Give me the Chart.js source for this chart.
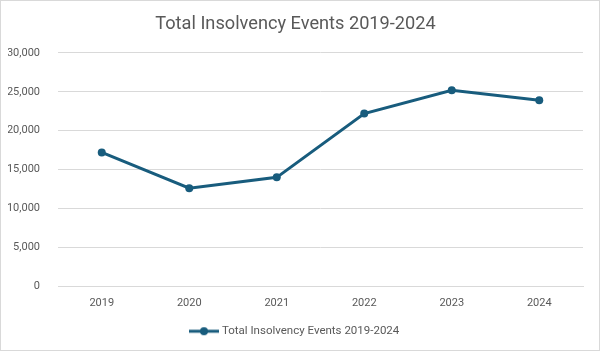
<!DOCTYPE html>
<html>
<head>
<meta charset="utf-8">
<script src="https://cdn.jsdelivr.net/npm/chart.js@4"></script>
<style>
  html, body { margin: 0; padding: 0; background: #fff; }
  #wrap { position: relative; width: 600px; height: 351px; }
  #frame { position: absolute; left: 0; top: 0; width: 600px; height: 351px; box-sizing: border-box; border: 1px solid #d9d9d9; pointer-events: none; }
  canvas { display: block; }
</style>
</head>
<body>
<div id="wrap">
  <canvas id="c" width="600" height="351"></canvas>
  <div id="frame"></div>
</div>
<script>
const categories = ['2019', '2020', '2021', '2022', '2023', '2024'];
const insolvencyEvents = [17200, 12600, 14000, 22200, 25200, 23900];
const seriesName = 'Total Insolvency Events 2019-2024';
const chartTitle = 'Total Insolvency Events 2019-2024';
const yTicks = [0, 5000, 10000, 15000, 20000, 25000, 30000];

const lineColor = '#185c7d';
const textColor = '#595959';
const gridColor = '#d9d9d9';
const fontFamily = 'Roboto, "Liberation Sans", sans-serif';

// legend marker: line with a circle
const marker = document.createElement('canvas');
marker.width = 30; marker.height = 10;
(function () {
  const m = marker.getContext('2d');
  m.strokeStyle = lineColor; m.lineWidth = 3;
  m.beginPath(); m.moveTo(0, 5); m.lineTo(30, 5); m.stroke();
  m.fillStyle = lineColor;
  m.beginPath(); m.arc(15, 5, 4, 0, Math.PI * 2); m.fill();
})();

new Chart(document.getElementById('c'), {
  type: 'line',
  data: {
    labels: categories,
    datasets: [{
      label: seriesName,
      data: insolvencyEvents,
      borderColor: lineColor,
      backgroundColor: lineColor,
      borderWidth: 3,
      pointRadius: 4,
      pointBackgroundColor: lineColor,
      pointBorderColor: lineColor,
      pointBorderWidth: 0,
      tension: 0
    }]
  },
  options: {
    responsive: false,
    animation: false,
    layout: { padding: { left: 8, right: 17, top: 0, bottom: 4 } },
    plugins: {
      title: {
        display: true,
        text: chartTitle,
        color: textColor,
        font: { family: fontFamily, size: 18.2, weight: 'normal' },
        padding: { top: 14, bottom: 17 }
      },
      legend: {
        position: 'bottom',
        labels: {
          color: textColor,
          font: { family: fontFamily, size: 11.5 },
          padding: 6,
          usePointStyle: true,
          pointStyleWidth: 24.5,
          generateLabels: (chart) => [{
            text: seriesName,
            pointStyle: marker,
            fillStyle: lineColor,
            strokeStyle: lineColor,
            lineWidth: 0,
            datasetIndex: 0,
            fontColor: textColor
          }]
        }
      },
      tooltip: { enabled: false }
    },
    scales: {
      x: {
        offset: true,
        grid: { display: false, drawTicks: false },
        border: { display: true, color: gridColor, width: 1 },
        ticks: { color: textColor, font: { family: fontFamily, size: 11 }, padding: 10 }
      },
      y: {
        min: 0, max: 30000,
        afterBuildTicks: (scale) => { scale.ticks = yTicks.map(v => ({ value: v })); },
        afterFit: (scale) => { scale.width = 50; },
        grid: { color: gridColor, drawTicks: false },
        border: { display: false },
        ticks: {
          color: textColor,
          font: { family: fontFamily, size: 11 },
          padding: 18,
          callback: (v) => v.toLocaleString('en-US')
        }
      }
    }
  }
});
</script>
</body>
</html>
